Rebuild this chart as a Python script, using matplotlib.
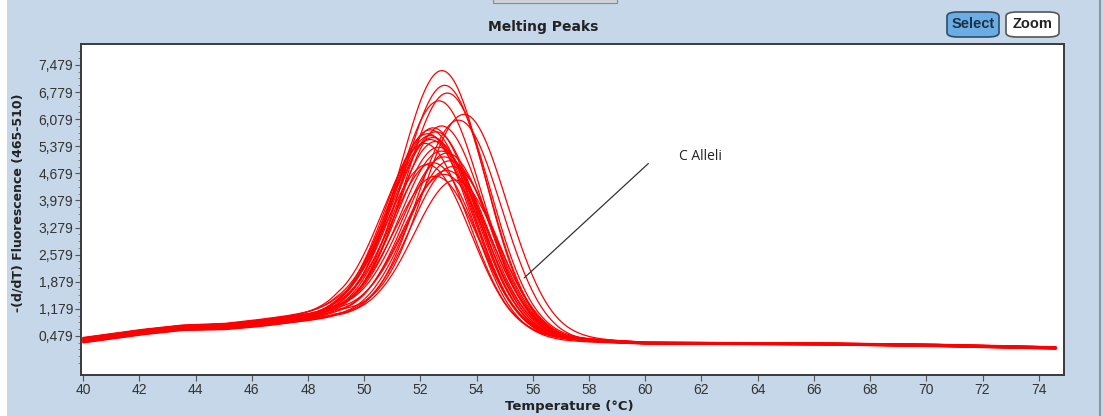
import numpy as np
import matplotlib
matplotlib.use("Agg")
import matplotlib.pyplot as plt
from matplotlib.patches import FancyBboxPatch, Rectangle
from matplotlib.lines import Line2D
from matplotlib.ticker import FixedLocator

# ---- data ----
title = "Melting Peaks"
x_label = "Temperature (°C)"
y_label = "-(d/dT) Fluorescence (465-510)"
x_ticks = [40, 42, 44, 46, 48, 50, 52, 54, 56, 58, 60, 62, 64, 66, 68, 70, 72, 74]
y_ticks = [0.479, 1.179, 1.879, 2.579, 3.279, 3.979, 4.679, 5.379, 6.079, 6.779, 7.479]
y_tick_labels = ["0,479", "1,179", "1,879", "2,579", "3,279", "3,979",
                 "4,679", "5,379", "6,079", "6,779", "7,479"]

# shared baseline (lower / upper edge of the baseline band)
base_temps = [40.0, 42.0, 43.5, 45.0, 46.0, 48.0, 49.0, 50.5, 52.0, 53.5, 55.0, 56.0, 57.0, 58.0, 60.0, 66.0, 70.0, 74.5]
base_low   = [0.30, 0.50, 0.62, 0.64, 0.70, 0.85, 0.92, 0.88, 0.78, 0.62, 0.46, 0.40, 0.35, 0.32, 0.27, 0.25, 0.21, 0.14]
base_high  = [0.44, 0.64, 0.76, 0.80, 0.88, 1.06, 1.14, 1.05, 0.92, 0.74, 0.56, 0.50, 0.44, 0.40, 0.32, 0.30, 0.27, 0.20]

# one entry per melting curve
peak_temps   = [52.8, 52.9, 53.0, 52.7, 53.6, 53.4, 52.5, 52.4, 52.6, 52.3, 52.5, 52.4, 52.6, 52.2,
                52.7, 52.8, 53.0, 52.9, 53.1, 52.5, 52.3, 53.2, 53.0, 52.9, 52.6, 53.3, 52.4, 52.8]
peak_heights = [7.33, 6.95, 6.75, 6.55, 6.20, 6.05, 5.85, 5.80, 5.75, 5.70, 5.60, 5.55, 5.50, 5.45,
                5.35, 5.25, 5.20, 5.10, 5.00, 4.95, 4.90, 4.85, 4.75, 4.65, 4.60, 4.50, 5.65, 5.90]
base_frac    = [0.5, 0.2, 0.8, 0.4, 0.9, 0.1, 0.6, 0.3, 0.7, 0.0, 1.0, 0.5, 0.2, 0.8,
                0.4, 0.6, 0.3, 0.9, 0.1, 0.7, 0.5, 0.2, 0.8, 0.4, 0.6, 0.3, 0.9, 0.5]
sigma_left  = 1.50
sigma_right = 1.50

# ---- figure ----
W, H = 1104, 416
fig = plt.figure(figsize=(W / 100, H / 100), dpi=100)
bg = "#c5d7e8"
fig.patch.set_facecolor(bg)
fig.add_artist(Rectangle((0, 0), 7 / W, 1, transform=fig.transFigure, facecolor="white", edgecolor="none"))
fig.add_artist(Line2D([1100 / W, 1100 / W], [0, 1], transform=fig.transFigure, color="#8a97a3", lw=1.5))
fig.add_artist(Rectangle((493 / W, 1 - 3 / H), 124 / W, 4 / H, transform=fig.transFigure,
                         facecolor="#d0d4d8", edgecolor="#8a8a8a", lw=0.8))

ax = fig.add_axes([81 / W, 41 / H, 983 / W, 331 / H])
ax.set_facecolor("white")

temps = np.linspace(40.0, 74.6, 1400)
lo = np.interp(temps, base_temps, base_low)
hi = np.interp(temps, base_temps, base_high)
for pt, ph, bf in zip(peak_temps, peak_heights, base_frac):
    base = lo + bf * (hi - lo)
    amp = ph - np.interp(pt, temps, base)
    sig = np.where(temps < pt, sigma_left, sigma_right)
    y = base + amp * np.exp(-0.5 * ((temps - pt) / sig) ** 2)
    ax.plot(temps, y, color="#ff0000", lw=0.9)

ax.set_xlim(39.92, 74.9)
ax.set_ylim(-0.53, 8.02)
ax.xaxis.set_major_locator(FixedLocator(x_ticks))
ax.set_xticklabels([str(t) for t in x_ticks])
ax.yaxis.set_major_locator(FixedLocator(y_ticks))
ax.set_yticklabels(y_tick_labels)
ax.yaxis.set_minor_locator(FixedLocator(list(np.arange(0.479 - 0.7, 8.0, 0.175))))

for s in ax.spines.values():
    s.set_color("#3a3a3a")
    s.set_linewidth(1.4)
ax.tick_params(axis="both", which="major", direction="out", length=4, width=0.8,
               color="#555555", labelsize=10, labelcolor="#333333", pad=1.5)
ax.tick_params(axis="y", which="minor", direction="out", length=2, width=0.6, color="#777777")
for lab in ax.get_xticklabels() + ax.get_yticklabels():
    lab.set_fontfamily("Liberation Sans")

ax.set_xlabel(x_label, fontsize=9.5, fontweight="bold", color="#222222", labelpad=0)
ax.xaxis.set_label_coords(0.497, -0.075)
ax.set_ylabel(y_label, fontsize=9, fontweight="bold", color="#222222")
ax.yaxis.set_label_coords(-0.057, 0.52)

fig.text(543 / W, 1 - 27 / H, title, ha="center", va="center", fontsize=10,
         fontweight="bold", color="#222222", family="DejaVu Sans")

# buttons
sel = FancyBboxPatch((947 / W, 1 - 37 / H), 52 / W, 25 / H, transform=fig.transFigure,
                     boxstyle="round,pad=0,rounding_size=0.01", facecolor="#6aade4",
                     edgecolor="#2f4d68", lw=1.2)
fig.add_artist(sel)
fig.text(973 / W, 1 - 24.5 / H, "Select", ha="center", va="center", fontsize=10.5,
         fontweight="bold", color="#1f2f44", family="Liberation Sans")
zm = FancyBboxPatch((1006 / W, 1 - 37 / H), 53 / W, 25 / H, transform=fig.transFigure,
                    boxstyle="round,pad=0,rounding_size=0.01", facecolor="white",
                    edgecolor="#555555", lw=1.2)
fig.add_artist(zm)
fig.text(1032.5 / W, 1 - 24.5 / H, "Zoom", ha="center", va="center", fontsize=10.5,
         fontweight="bold", color="#222222", family="Liberation Sans")

# annotation
ax.annotate("", xy=(55.62, 1.93), xytext=(60.18, 4.98),
            arrowprops=dict(arrowstyle="-", color="#333333", lw=0.9))
ax.text(61.2, 5.12, "C Alleli", fontsize=10, color="#222222", va="center", ha="left",
        family="Open Sans")

fig.savefig("out.png", dpi=100, facecolor=fig.get_facecolor())
